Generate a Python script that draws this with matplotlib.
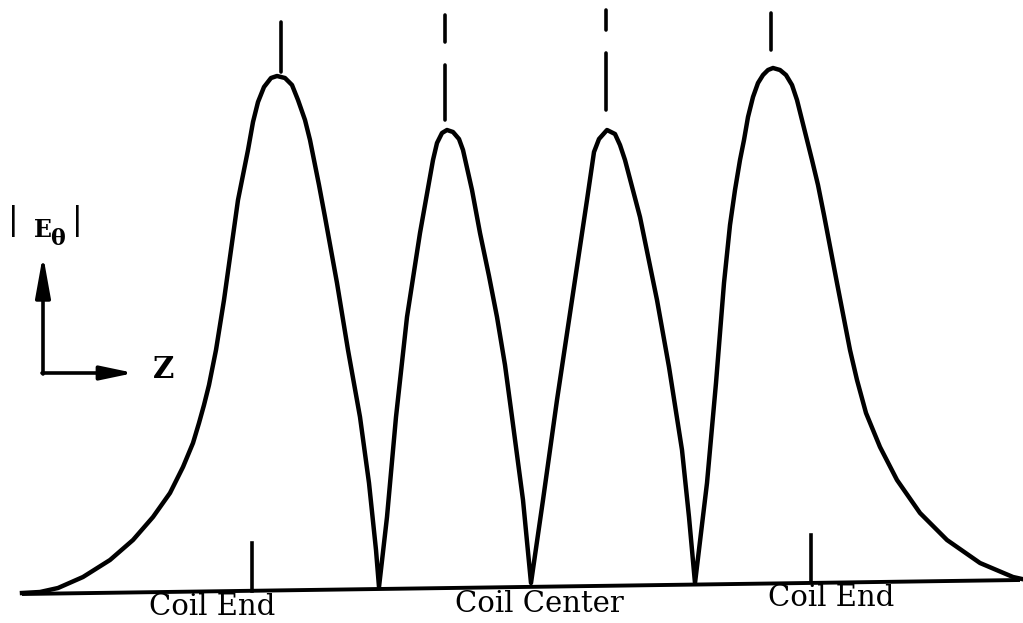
import matplotlib
matplotlib.use("Agg")
import matplotlib.pyplot as plt

# |E_theta| curve (x = z position, y = image row, baseline near 590)
curve_z = [22, 40, 58, 83, 110, 133, 153, 170, 183, 193, 199, 204, 209, 216, 224, 231,
           238, 243, 248, 253, 258, 264, 271, 277, 285, 292, 298, 305, 310, 314, 319,
           325, 337, 348, 360, 369, 376, 379,
           387, 396, 407, 420, 433, 437, 442, 447, 453, 459, 463, 472, 480, 489, 497,
           505, 512, 523, 531,
           543, 557, 572, 587, 594, 599, 607, 615, 620, 625, 640, 657, 669, 682, 689,
           695,
           707, 716, 724, 730, 735, 740, 744, 748, 753, 758, 763, 768, 773, 780, 786,
           792, 797, 802, 807, 812, 818, 824, 837, 850, 857, 866, 880, 897, 920, 947,
           980, 1013, 1022]
curve_e = [593, 592, 588, 577, 560, 540, 517, 493, 467, 443, 423, 405, 385, 350, 300, 250,
           200, 175, 150, 122, 102, 87, 78, 76, 78, 85, 100, 120, 140, 160, 185,
           217, 283, 350, 417, 483, 550, 587,
           517, 417, 317, 233, 160, 143, 133, 130, 132, 139, 150, 190, 233, 276, 317,
           365, 417, 500, 583,
           500, 400, 300, 200, 152, 139, 130, 134, 145, 160, 217, 300, 367, 450, 517,
           583,
           483, 383, 283, 225, 190, 160, 140, 117, 97, 83, 75, 70, 68, 70, 75,
           85, 100, 120, 140, 160, 185, 215, 283, 350, 380, 413, 447, 480, 513, 540,
           563, 577, 579]

base_z = [22, 1020]
base_e = [594, 580]

# marks above the peaks: (x, list of (top, bottom) pieces)
peak_marks_x = [281, 445, 606, 771]
peak_marks_y = [[(22, 72)], [(15, 42), (65, 120)], [(10, 30), (53, 110)], [(13, 50)]]

# coil-end marks on the baseline
end_marks_x = [252, 811]
end_marks_top = [543, 535]
end_marks_bot = [591, 582]

labels = ["Coil End", "Coil Center", "Coil End"]
label_x = [212, 539, 831]
label_y = [607, 604, 598]

fig = plt.figure(figsize=(10.23, 6.23), dpi=100)
ax = fig.add_axes([0, 0, 1, 1])
ax.set_xlim(0, 1023)
ax.set_ylim(623, 0)
ax.axis("off")

ax.plot(base_z, base_e, color="black", lw=2.8, solid_capstyle="butt")
ax.plot(curve_z, curve_e, color="black", lw=3.2, solid_joinstyle="round")

for x, pieces in zip(peak_marks_x, peak_marks_y):
    for top, bot in pieces:
        ax.plot([x, x], [top, bot], color="black", lw=2.6, solid_capstyle="round")

for x, t, b in zip(end_marks_x, end_marks_top, end_marks_bot):
    ax.plot([x, x], [t, b], color="black", lw=2.6)

for s, x, y in zip(labels, label_x, label_y):
    ax.text(x, y, s, ha="center", va="center", fontsize=21,
            family="DejaVu Serif", color="black")

# axis indicator
ax.annotate("", xy=(43, 255), xytext=(43, 374),
            arrowprops=dict(arrowstyle="-|>,head_length=2.5,head_width=0.45",
                            color="black", lw=2.6, shrinkA=0, shrinkB=0))
ax.annotate("", xy=(134, 373), xytext=(42, 373),
            arrowprops=dict(arrowstyle="-|>,head_length=2.0,head_width=0.42",
                            color="black", lw=2.6, shrinkA=0, shrinkB=0))
ax.text(164, 370, "Z", ha="center", va="center", fontsize=21,
        family="DejaVu Serif", weight="bold")
ax.text(13, 221, "|", ha="center", va="center", fontsize=23, family="DejaVu Sans")
ax.text(43, 230, "E", ha="center", va="center", fontsize=17,
        family="DejaVu Serif", weight="bold")
ax.text(58, 239, "θ", ha="center", va="center", fontsize=16,
        family="DejaVu Serif", weight="bold")
ax.text(77, 221, "|", ha="center", va="center", fontsize=23, family="DejaVu Sans")

fig.savefig("out.png", dpi=100, facecolor="white")
